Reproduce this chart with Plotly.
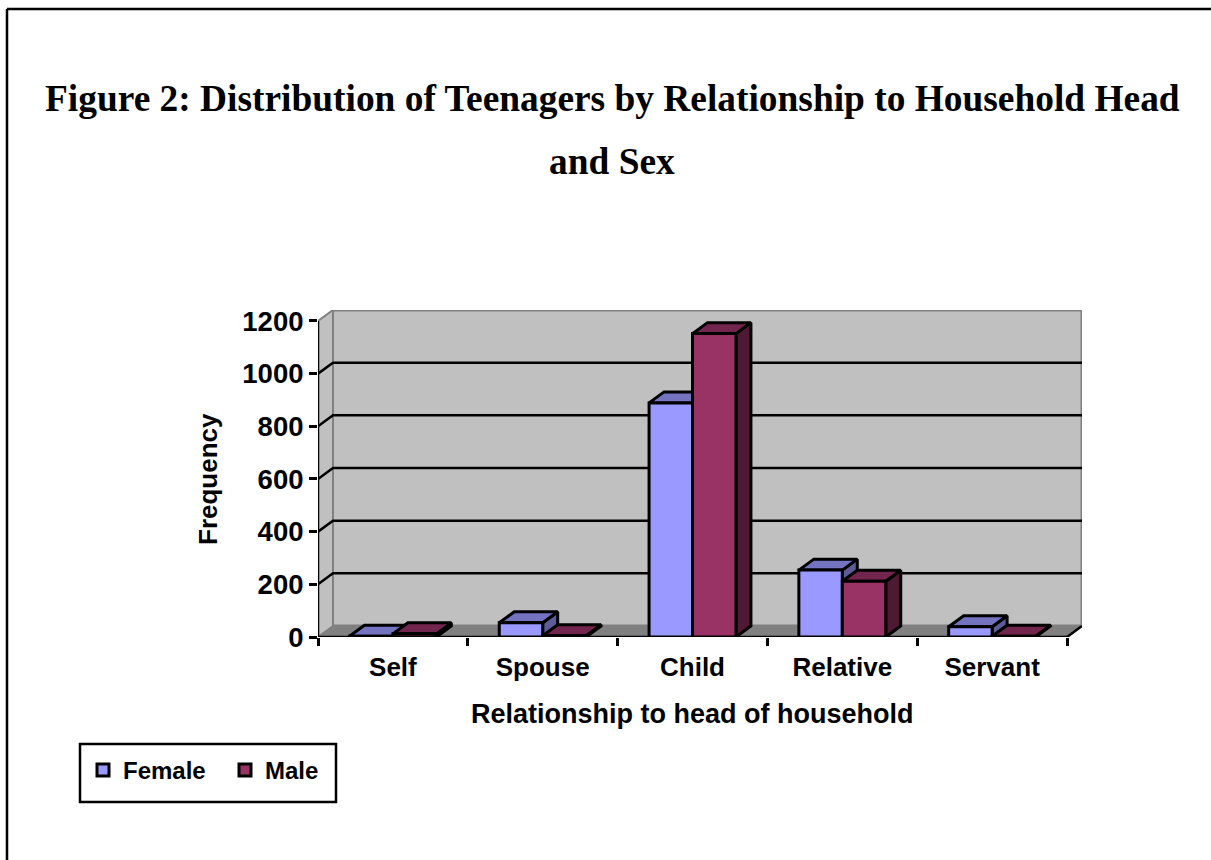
import plotly.graph_objects as go

TITLE_LINES = ["Figure 2: Distribution of Teenagers by Relationship to Household Head", "and Sex"]
CATEGORIES = ["Self", "Spouse", "Child", "Relative", "Servant"]
FEMALE = [3, 54, 889, 254, 39]
MALE = [12, 5, 1152, 212, 3]
Y_TICKS = [0, 200, 400, 600, 800, 1000, 1200]

# page geometry in pixels
W, H = 1211, 860
L, R, T, B = 318, 1082, 310, 637

# fake 3d depth, in axis units
DX = 0.1
DY = 41.7
BAR_W = 0.29
GAP = 0.21
X_MAX = len(CATEGORIES)
Y_MAX = Y_TICKS[-1]

SANS = "Liberation Sans"
SERIF = "Liberation Serif"


def px(x):
    return (x - L) / (R - L)


def py(y):
    return (B - y) / (B - T)


def line(x, y, color="black", width=2.5, z=0):
    return go.Scatter(x=x, y=y, mode="lines", line=dict(color=color, width=width), showlegend=False,
                      hoverinfo="skip", cliponaxis=False, zorder=z)


def poly(x, y, color, z=0, edge="black", width=3):
    return go.Scatter(x=x, y=y, mode="lines", fill="toself", fillcolor=color, line=dict(color=edge, width=width),
                      showlegend=False, hoverinfo="skip", cliponaxis=False, zorder=z)


fig = go.Figure()

# walls and floor
fig.add_trace(poly([DX, X_MAX + DX, X_MAX + DX, DX], [DY, DY, Y_MAX + DY, Y_MAX + DY], "#C0C0C0", edge="#808080", width=3))
fig.add_trace(poly([0, DX, DX, 0], [0, DY, Y_MAX + DY, Y_MAX], "#C0C0C0", edge="#808080", width=2))
fig.add_trace(poly([0, X_MAX, X_MAX + DX, DX], [0, 0, DY, DY], "#808080", edge="#808080", width=1))

# gridlines run along the back wall and bend down the left wall
for tick in Y_TICKS[1:-1]:
    fig.add_trace(line([0, DX, X_MAX + DX], [tick, tick + DY, tick + DY]))

fig.add_trace(line([X_MAX, X_MAX + DX], [0, DY]))
fig.add_trace(line([0, 0], [0, Y_MAX]))
fig.add_trace(line([0, X_MAX], [0, 0]))


def add_series(name, values, k, front, top, side):
    tx, ty, sx, sy = [], [], [], []
    for i, v in enumerate(values):
        x0 = i + GAP + k * BAR_W
        x1 = x0 + BAR_W
        tx += [x0, x1, x1 + DX, x0 + DX, x0, None]
        ty += [v, v, v + DY, v + DY, v, None]
        sx += [x1, x1, x1 + DX, x1 + DX, x1, None]
        sy += [0, v, v + DY, DY, 0, None]
    z = 1 + 2 * k
    fig.add_trace(poly(sx, sy, side, z=z))
    fig.add_trace(poly(tx, ty, top, z=z))
    fig.add_trace(go.Bar(x=[i + 0.5 for i in range(X_MAX)], y=values, name=name, zorder=z + 1, cliponaxis=False,
                         marker=dict(color=front, line=dict(color="black", width=3))))


add_series("Female", FEMALE, 0, "#9999FF", "#7373BF", "#5C5C99")
add_series("Male", MALE, 1, "#993366", "#73264D", "#4D1933")

fig.update_layout(
    width=W, height=H, margin=dict(l=L, r=W - R, t=T, b=H - B, autoexpand=False),
    paper_bgcolor="white", plot_bgcolor="white",
    font=dict(family=SANS, color="black"),
    barmode="group", bargap=GAP * 2, bargroupgap=0,
    legend=dict(orientation="h", x=px(83), y=py(748), xanchor="left", yanchor="top", bgcolor="rgba(0,0,0,0)",
                borderwidth=0, font=dict(family=SANS, size=24, weight="bold"), entrywidth=97,
                entrywidthmode="pixels", traceorder="normal"),
    shapes=[
        dict(type="line", xref="paper", yref="paper", x0=px(7), x1=px(7), y0=py(9), y1=py(H),
             line=dict(color="black", width=2.5)),
        dict(type="line", xref="paper", yref="paper", x0=px(7), x1=px(W), y0=py(9), y1=py(9),
             line=dict(color="black", width=2.5)),
        dict(type="rect", xref="paper", yref="paper", x0=px(80), x1=px(336), y0=py(744), y1=py(802),
             line=dict(color="black", width=2.5), fillcolor="white"),
    ],
    annotations=[
        dict(text=TITLE_LINES[0], xref="paper", yref="paper", x=px(612), y=py(98), showarrow=False, yanchor="middle",
             font=dict(family=SERIF, size=37.4, weight="bold")),
        dict(text=TITLE_LINES[1], xref="paper", yref="paper", x=px(612), y=py(162), showarrow=False, yanchor="middle",
             font=dict(family=SERIF, size=37.4, weight="bold")),
        dict(text="Relationship to head of household", xref="x", yref="paper", x=X_MAX / 2, y=py(714), showarrow=False,
             yanchor="middle", font=dict(family=SANS, size=27, weight="bold")),
        dict(text="Frequency", xref="paper", yref="y", x=px(208), y=Y_MAX / 2, showarrow=False, textangle=-90,
             xanchor="center", yanchor="middle", font=dict(family=SANS, size=26, weight="bold")),
    ],
)
fig.update_xaxes(range=[0, X_MAX + DX], tickmode="array", tickvals=[i + 0.5 for i in range(X_MAX)], ticktext=CATEGORIES,
                 ticks="", showgrid=False, zeroline=False, showline=False, ticklabelstandoff=12,
                 tickfont=dict(family=SANS, size=26, weight="bold"),
                 minor=dict(tickmode="array", tickvals=list(range(X_MAX + 1)), ticks="outside", ticklen=8, tickwidth=2.5,
                            tickcolor="black", showgrid=False))
fig.update_yaxes(range=[0, Y_MAX + DY], tickmode="array", tickvals=Y_TICKS, ticks="outside", ticklen=8, tickwidth=2.5,
                 tickcolor="black", showgrid=False, zeroline=False, showline=False,
                 tickfont=dict(family=SANS, size=27.5, weight="bold"))

fig.write_html("out.html", config=dict(displayModeBar=False),
               post_script="document.body.style.margin='0';document.body.style.overflow='hidden';")
